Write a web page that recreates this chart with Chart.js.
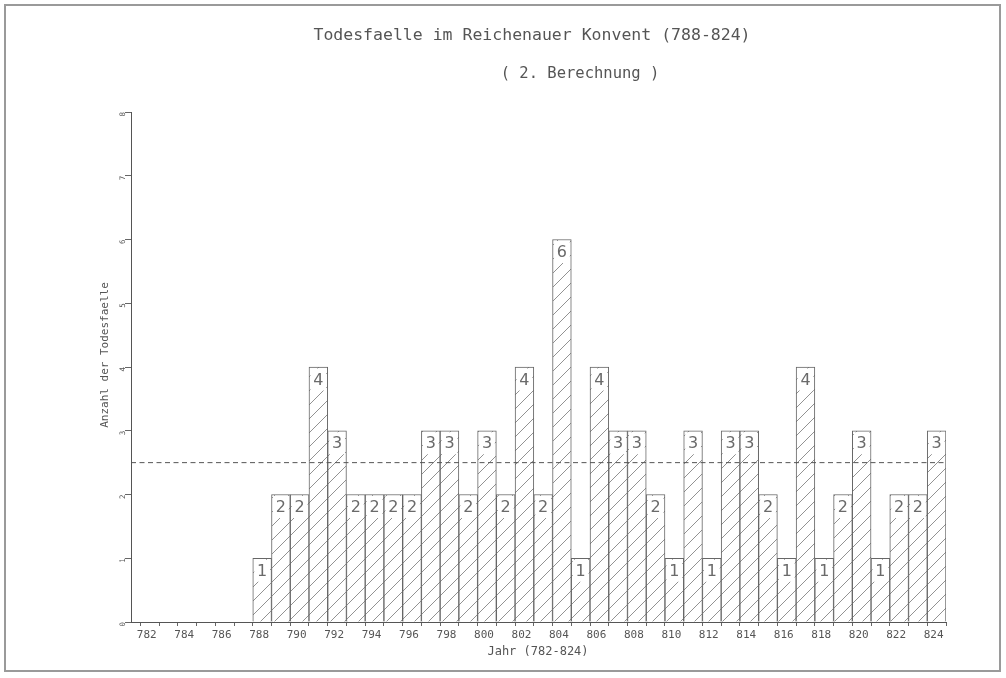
<!DOCTYPE html>
<html>
<head>
<meta charset="utf-8">
<script src="https://cdn.jsdelivr.net/npm/chart.js@4/dist/chart.umd.min.js"></script>
<style>
  html, body { margin: 0; padding: 0; background: #fff; }
  #wrap { width: 1006px; height: 678px; }
</style>
</head>
<body>
<div id="wrap"><canvas id="c" width="1006" height="678"></canvas></div>
<script>
// Years on the x axis and deaths recorded per year
const years = [782, 783, 784, 785, 786, 787, 788, 789, 790, 791, 792, 793, 794, 795, 796,
               797, 798, 799, 800, 801, 802, 803, 804, 805, 806, 807, 808, 809, 810, 811,
               812, 813, 814, 815, 816, 817, 818, 819, 820, 821, 822, 823, 824];
const deaths = [0, 0, 0, 0, 0, 0, 1, 2, 2, 4, 3, 2, 2, 2, 2,
                3, 3, 2, 3, 2, 4, 2, 6, 1, 4, 3, 3, 2, 1, 3,
                1, 3, 3, 2, 1, 4, 1, 2, 3, 1, 2, 2, 3];
// Average deaths per year (dashed reference line)
const meanDeaths = 2.5;
const meanSpan = [781, 824.5];
const yTickValues = [0, 1, 2, 3, 4, 5, 6, 7, 8];
const xLabelYears = [782, 784, 786, 788, 790, 792, 794, 796, 798, 800, 802, 804,
                     806, 808, 810, 812, 814, 816, 818, 820, 822, 824];

const titleText = 'Todesfaelle im Reichenauer Konvent (788-824)';
const subtitleText = '( 2. Berechnung )';
const xTitleText = 'Jahr (782-824)';
const yTitleText = 'Anzahl der Todesfaelle';

const INK = '#555';
const PLOT_FONT = '"DejaVu Sans Mono", monospace';

const canvas = document.getElementById('c');
const ctx = canvas.getContext('2d');

// Diagonal "/" hatching shared by all bars (anchored to the canvas so it runs on across bars)
function makeHatch() {
  const s = 14;
  const tile = document.createElement('canvas');
  tile.width = s; tile.height = s;
  const g = tile.getContext('2d');
  g.fillStyle = '#fff';
  g.fillRect(0, 0, s, s);
  g.strokeStyle = '#929292';
  g.lineWidth = 1;
  g.beginPath();
  g.moveTo(-1, s + 1); g.lineTo(s + 1, -1);
  g.moveTo(-1, 1); g.lineTo(1, -1);
  g.moveTo(s - 1, s + 1); g.lineTo(s + 1, s - 1);
  g.stroke();
  return ctx.createPattern(tile, 'repeat');
}
const hatch = makeHatch();

const barPoints = years.map((y, i) => ({ x: y, y: deaths[i] }));
const meanPoints = meanSpan.map(x => ({ x: x, y: meanDeaths }));

// Page frame and white background
const framePlugin = {
  id: 'frame',
  beforeDraw(chart) {
    const c = chart.ctx;
    c.save();
    c.fillStyle = '#fff';
    c.fillRect(0, 0, chart.width, chart.height);
    c.strokeStyle = '#9a9a9a';
    c.lineWidth = 2;
    c.strokeRect(5, 5, 995, 666);
    c.restore();
  }
};

// Value printed in a cleared box at the top of each bar
const valueLabels = {
  id: 'valueLabels',
  afterDatasetsDraw(chart) {
    const idx = chart.data.datasets.findIndex(d => d.type === 'bar');
    const meta = chart.getDatasetMeta(idx);
    const c = chart.ctx;
    c.save();
    meta.data.forEach((bar, i) => {
      const v = deaths[i];
      if (!v) return;
      const half = bar.width / 2;
      const left = bar.x - half + 1.5;
      const w = bar.width - 3;
      c.fillStyle = '#fff';
      c.fillRect(left, bar.y + 1.5, w, 22);
      c.fillStyle = '#6a6a6a';
      c.font = '16px "DejaVu Sans", sans-serif';
      c.textAlign = 'center';
      c.textBaseline = 'middle';
      c.fillText(String(v), bar.x, bar.y + 13.5);
    });
    c.restore();
  }
};

// Titles and axis captions
const captions = {
  id: 'captions',
  afterDraw(chart) {
    const c = chart.ctx;
    c.save();
    c.fillStyle = INK;
    c.textAlign = 'center';
    c.textBaseline = 'middle';
    c.font = '16.5px ' + PLOT_FONT;
    c.fillText(titleText, 532, 36);
    c.font = '15.5px ' + PLOT_FONT;
    c.fillText(subtitleText, 580, 74);
    c.font = '12px ' + PLOT_FONT;
    c.fillText(xTitleText, 538, 652);
    c.translate(105, 355);
    c.rotate(-Math.PI / 2);
    c.font = '11px ' + PLOT_FONT;
    c.fillText(yTitleText, 0, 0);
    c.restore();
  }
};

Chart.defaults.font.family = PLOT_FONT;
Chart.defaults.color = INK;

new Chart(ctx, {
  data: {
    datasets: [
      {
        type: 'line',
        data: meanPoints,
        borderColor: '#555',
        borderWidth: 1,
        borderDash: [5, 3.5],
        pointRadius: 0,
        fill: false,
        order: 0
      },
      {
        type: 'bar',
        data: barPoints,
        backgroundColor: hatch,
        borderColor: '#666',
        borderWidth: 1,
        borderSkipped: 'bottom',
        barPercentage: 1,
        categoryPercentage: 1,
        order: 1
      }
    ]
  },
  options: {
    responsive: false,
    animation: false,
    devicePixelRatio: 1,
    layout: { padding: { top: 112, right: 60, left: 0, bottom: 0 } },
    plugins: {
      legend: { display: false },
      tooltip: { enabled: false },
      title: { display: false }
    },
    scales: {
      x: {
        type: 'linear',
        min: meanSpan[0],
        max: meanSpan[1],
        offset: false,
        afterBuildTicks(scale) {
          scale.ticks = years.map(v => ({ value: v }));
        },
        afterFit(scale) { scale.height = 56; },
        ticks: {
          autoSkip: false,
          maxRotation: 0,
          minRotation: 0,
          padding: 3,
          labelOffset: -3,
          color: INK,
          font: { size: 11, family: PLOT_FONT },
          callback: v => (xLabelYears.includes(v) ? String(v) : '')
        },
        grid: {
          drawOnChartArea: false,
          drawTicks: true,
          tickLength: 4,
          color: '#666'
        },
        border: { display: true, color: '#555', width: 1 }
      },
      y: {
        type: 'linear',
        min: 0,
        max: 8,
        afterBuildTicks(scale) {
          scale.ticks = yTickValues.map(v => ({ value: v }));
        },
        afterFit(scale) { scale.width = 131; },
        ticks: {
          minRotation: 90,
          maxRotation: 90,
          padding: 2,
          color: INK,
          font: { size: 7.5, family: PLOT_FONT }
        },
        grid: {
          drawOnChartArea: false,
          drawTicks: true,
          tickLength: 6,
          color: '#666'
        },
        border: { display: true, color: '#555', width: 1 }
      }
    }
  },
  plugins: [framePlugin, valueLabels, captions]
});
</script>
</body>
</html>
